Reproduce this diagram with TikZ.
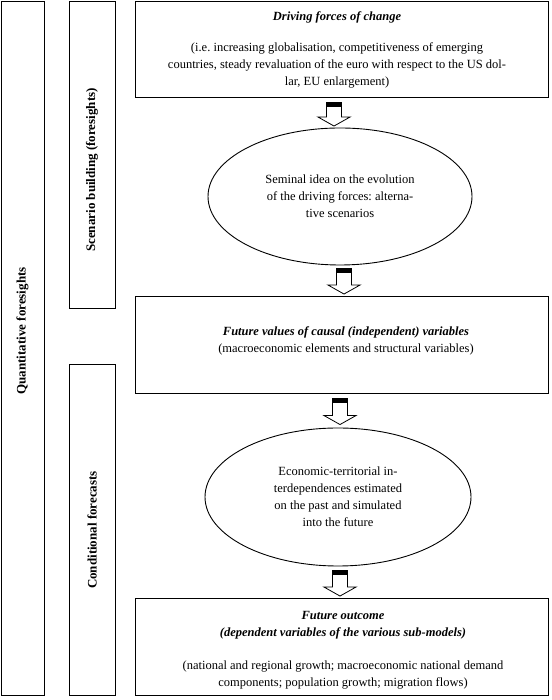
\documentclass[tikz,border=0pt]{standalone}
\usepackage{fontspec}
\setmainfont{Liberation Serif}
\frenchspacing
\usetikzlibrary{calc, positioning, shapes.geometric}

\tikzset{
  box/.style={draw, line width=0.9pt, rectangle, inner sep=0pt},
  oval/.style={draw, line width=0.9pt, ellipse, inner sep=0pt, align=center,
    font=\fontsize{12.5}{17}\selectfont},
  txt/.style={align=center, inner sep=0pt, font=\fontsize{12.5}{17}\selectfont},
  sidetxt/.style={rotate=90, inner sep=0pt, font=\fontsize{13}{15}\selectfont\bfseries},
  bigarrow/.style={draw, fill=white, line width=0.8pt, to path={
    let \p1=(\tikztostart), \p2=(\tikztotarget) in
    (\x1-7.5pt,\y1) -- (\x1-7.5pt,\y2+9pt) -- (\x1-16pt,\y2+9pt) -- (\x1,\y2)
    -- (\x1+16pt,\y2+9pt) -- (\x1+7.5pt,\y2+9pt) -- (\x1+7.5pt,\y1) -- cycle}},
}

\begin{document}
\begin{tikzpicture}[x=1pt, y=1pt]
    \useasboundingbox (0,0) rectangle (551,700);

    % colonne laterali
    \node[box, minimum width=43, minimum height=694] (quant) at (22.5,352) {};
    \node[box, minimum width=46, minimum height=307] (scen) at (92,545.5) {};
    \node[box, minimum width=46, minimum height=331] (cond) at (92,170.5) {};

    \node[sidetxt] (quant-txt) at (22.5,369) {Quantitative foresights};
    \node[sidetxt] (scen-txt) at (92,530) {Scenario building (foresights)};
    \node[sidetxt] (cond-txt) at (92,170) {Conditional forecasts};

    % riquadri
    \node[box, minimum width=413, minimum height=96] (drivers) at (341.5,651) {};
    \node[box, minimum width=413, minimum height=97] (causal) at (341.5,355.5) {};
    \node[box, minimum width=413, minimum height=97] (outcome) at (341.5,53.5) {};

    \node[txt] (drivers-txt) at (337,650.5) {\textbf{\textit{Driving forces of change}}\\[14pt]
      (i.e. increasing globalisation, competitiveness of emerging\\
      countries, steady revaluation of the euro with respect to the US dol-\\
      lar, EU enlargement)};
    \node[txt] (causal-txt) at (346,359) {\textbf{\textit{Future values of causal (independent) variables}}\\
      (macroeconomic elements and structural variables)};
    \node[txt] (outcome-txt) at (343,50) {\textbf{\textit{Future outcome}}\\
      \textbf{\textit{(dependent variables of the various sub-models)}}\\[16pt]
      (national and regional growth; macroeconomic national demand\\
      components; population growth; migration flows)};

    % ellissi
    \node[oval, minimum width=264, minimum height=137] (seminal) at (340,503.5)
      {Seminal idea on the evolution\\ of the driving forces: alterna-\\ tive scenarios};
    \node[oval, minimum width=266, minimum height=138] (interdep) at (338,203)
      {Economic-territorial in-\\ terdependences estimated\\ on the past and simulated\\ into the future};

    % frecce
    \coordinate (a1) at ($(drivers.south)+(-7.5,-5)$);
    \coordinate (a2) at ($(seminal.south)+(4,-3)$);
    \coordinate (a3) at ($(causal.south)+(-1.5,-5)$);
    \coordinate (a4) at ($(interdep.south)+(2,-4)$);

    \draw[bigarrow] (a1) to ([yshift=1.5]seminal.north);
    \draw[bigarrow] (a2) to ([yshift=1.5]causal.north);
    \draw[bigarrow] (a3) to ([yshift=3]interdep.north);
    \draw[bigarrow] (a4) to ([yshift=1.5]outcome.north);

    \foreach \a in {a1,a2,a3,a4}
      \fill ($(\a)+(-7.5,0)$) rectangle ++(15,-5);
\end{tikzpicture}
\end{document}
